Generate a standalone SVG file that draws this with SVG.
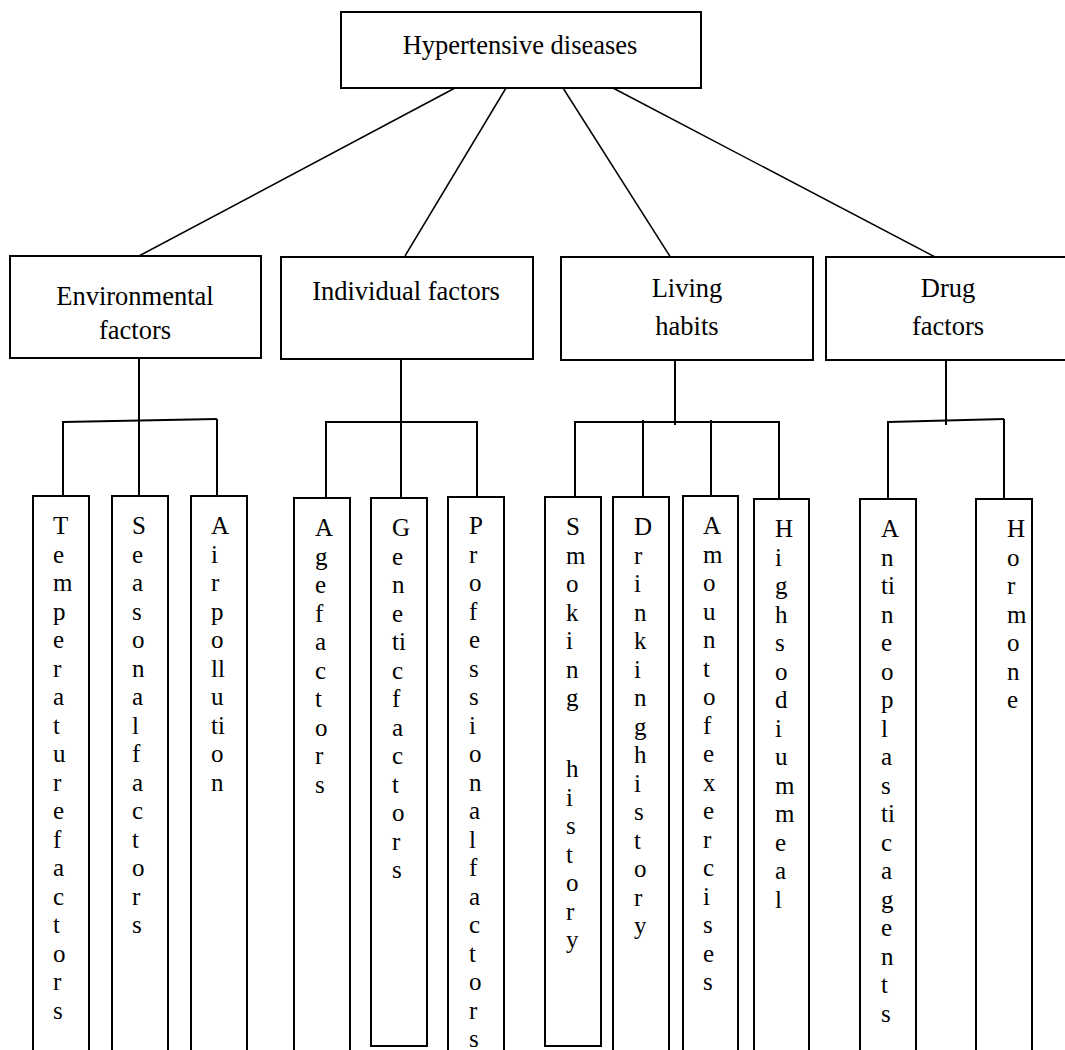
<svg xmlns="http://www.w3.org/2000/svg" width="1065" height="1050" viewBox="0 0 1065 1050">
<style>
.box{fill:#fff;stroke:#000;stroke-width:2}
.ln{stroke:#000;stroke-width:1.5;fill:none}
.cn{stroke:#000;stroke-width:2;fill:none}
.t{font-family:"Liberation Serif","Times New Roman",serif;font-size:26.5px;fill:#000}
.lt{font-family:"Liberation Serif","Times New Roman",serif;font-size:25px;fill:#000}
</style>
<rect width="1065" height="1050" fill="#fff"/>
<g id="connectors">
<line class="ln" x1="455" y1="88" x2="139" y2="256"/>
<line class="ln" x1="506" y1="88" x2="405" y2="256"/>
<line class="ln" x1="563" y1="88" x2="671" y2="258"/>
<line class="ln" x1="613" y1="88" x2="937" y2="258"/>
<line class="cn" x1="139" y1="358" x2="139" y2="496"/>
<line class="cn" x1="63" y1="422" x2="217" y2="419"/>
<line class="cn" x1="63" y1="421" x2="63" y2="496"/>
<line class="cn" x1="217" y1="419" x2="217" y2="496"/>
<line class="cn" x1="401" y1="359" x2="401" y2="498"/>
<line class="cn" x1="326" y1="422" x2="477" y2="422"/>
<line class="cn" x1="326" y1="421" x2="326" y2="498"/>
<line class="cn" x1="477" y1="421" x2="477" y2="497"/>
<line class="cn" x1="675" y1="360" x2="675" y2="425"/>
<line class="cn" x1="575" y1="422" x2="779" y2="422"/>
<line class="cn" x1="575" y1="421" x2="575" y2="497"/>
<line class="cn" x1="643" y1="420" x2="643" y2="497"/>
<line class="cn" x1="711" y1="420" x2="711" y2="496"/>
<line class="cn" x1="779" y1="421" x2="779" y2="499"/>
<line class="cn" x1="946" y1="360" x2="946" y2="425"/>
<line class="cn" x1="888" y1="422" x2="1004" y2="419"/>
<line class="cn" x1="888" y1="421" x2="888" y2="499"/>
<line class="cn" x1="1004" y1="419" x2="1004" y2="499"/>
</g>
<g id="root"><rect class="box" x="341" y="12" width="360" height="76"/><text class="t" x="520" y="54" text-anchor="middle">Hypertensive diseases</text></g>
<g id="environmental"><rect class="box" x="10" y="256" width="251" height="102"/><text class="t" x="135" y="305" text-anchor="middle">Environmental</text><text class="t" x="135" y="339" text-anchor="middle">factors</text></g>
<g id="individual"><rect class="box" x="281" y="257" width="252" height="102"/><text class="t" x="406" y="300" text-anchor="middle">Individual factors</text></g>
<g id="living"><rect class="box" x="561" y="257" width="252" height="103"/><text class="t" x="687" y="297" text-anchor="middle">Living</text><text class="t" x="687" y="335" text-anchor="middle">habits</text></g>
<g id="drug"><rect class="box" x="826" y="257" width="240" height="103"/><text class="t" x="948" y="297" text-anchor="middle">Drug</text><text class="t" x="948" y="335" text-anchor="middle">factors</text></g>

<g id="temperature"><rect class="box" x="33" y="496" width="56" height="570"/>
<text class="lt" y="534"><tspan x="53">T</tspan><tspan x="53" dy="28.5">e</tspan><tspan x="53" dy="28.5">m</tspan><tspan x="53" dy="28.5">p</tspan><tspan x="53" dy="28.5">e</tspan><tspan x="53" dy="28.5">r</tspan><tspan x="53" dy="28.5">a</tspan><tspan x="53" dy="28.5">t</tspan><tspan x="53" dy="28.5">u</tspan><tspan x="53" dy="28.5">r</tspan><tspan x="53" dy="28.5">e</tspan><tspan x="53" dy="28.5">f</tspan><tspan x="53" dy="28.5">a</tspan><tspan x="53" dy="28.5">c</tspan><tspan x="53" dy="28.5">t</tspan><tspan x="53" dy="28.5">o</tspan><tspan x="53" dy="28.5">r</tspan><tspan x="53" dy="28.5">s</tspan></text></g>

<g id="seasonal"><rect class="box" x="112" y="496" width="56" height="570"/>
<text class="lt" y="534"><tspan x="132">S</tspan><tspan x="132" dy="28.5">e</tspan><tspan x="132" dy="28.5">a</tspan><tspan x="132" dy="28.5">s</tspan><tspan x="132" dy="28.5">o</tspan><tspan x="132" dy="28.5">n</tspan><tspan x="132" dy="28.5">a</tspan><tspan x="132" dy="28.5">l</tspan><tspan x="132" dy="28.5">f</tspan><tspan x="132" dy="28.5">a</tspan><tspan x="132" dy="28.5">c</tspan><tspan x="132" dy="28.5">t</tspan><tspan x="132" dy="28.5">o</tspan><tspan x="132" dy="28.5">r</tspan><tspan x="132" dy="28.5">s</tspan></text></g>

<g id="air"><rect class="box" x="191" y="496" width="56" height="570"/>
<text class="lt" y="534"><tspan x="211">A</tspan><tspan x="211" dy="28.5">i</tspan><tspan x="211" dy="28.5">r</tspan><tspan x="211" dy="28.5">p</tspan><tspan x="211" dy="28.5">o</tspan><tspan x="211" dy="28.5">ll</tspan><tspan x="211" dy="28.5">u</tspan><tspan x="211" dy="28.5">ti</tspan><tspan x="211" dy="28.5">o</tspan><tspan x="211" dy="28.5">n</tspan></text></g>

<g id="age"><rect class="box" x="294" y="498" width="56" height="570"/>
<text class="lt" y="536"><tspan x="315">A</tspan><tspan x="315" dy="28.5">g</tspan><tspan x="315" dy="28.5">e</tspan><tspan x="315" dy="28.5">f</tspan><tspan x="315" dy="28.5">a</tspan><tspan x="315" dy="28.5">c</tspan><tspan x="315" dy="28.5">t</tspan><tspan x="315" dy="28.5">o</tspan><tspan x="315" dy="28.5">r</tspan><tspan x="315" dy="28.5">s</tspan></text></g>

<g id="genetic"><rect class="box" x="371" y="498" width="56" height="548"/>
<text class="lt" y="536"><tspan x="392">G</tspan><tspan x="392" dy="28.5">e</tspan><tspan x="392" dy="28.5">n</tspan><tspan x="392" dy="28.5">e</tspan><tspan x="392" dy="28.5">ti</tspan><tspan x="392" dy="28.5">c</tspan><tspan x="392" dy="28.5">f</tspan><tspan x="392" dy="28.5">a</tspan><tspan x="392" dy="28.5">c</tspan><tspan x="392" dy="28.5">t</tspan><tspan x="392" dy="28.5">o</tspan><tspan x="392" dy="28.5">r</tspan><tspan x="392" dy="28.5">s</tspan></text></g>

<g id="professional"><rect class="box" x="448" y="497" width="56" height="570"/>
<text class="lt" y="534"><tspan x="469">P</tspan><tspan x="469" dy="28.5">r</tspan><tspan x="469" dy="28.5">o</tspan><tspan x="469" dy="28.5">f</tspan><tspan x="469" dy="28.5">e</tspan><tspan x="469" dy="28.5">s</tspan><tspan x="469" dy="28.5">s</tspan><tspan x="469" dy="28.5">i</tspan><tspan x="469" dy="28.5">o</tspan><tspan x="469" dy="28.5">n</tspan><tspan x="469" dy="28.5">a</tspan><tspan x="469" dy="28.5">l</tspan><tspan x="469" dy="28.5">f</tspan><tspan x="469" dy="28.5">a</tspan><tspan x="469" dy="28.5">c</tspan><tspan x="469" dy="28.5">t</tspan><tspan x="469" dy="28.5">o</tspan><tspan x="469" dy="28.5">r</tspan><tspan x="469" dy="28.5">s</tspan></text></g>

<g id="smoking"><rect class="box" x="545" y="497" width="56" height="549"/>
<text class="lt" y="535"><tspan x="566">S</tspan><tspan x="566" dy="28.5">m</tspan><tspan x="566" dy="28.5">o</tspan><tspan x="566" dy="28.5">k</tspan><tspan x="566" dy="28.5">i</tspan><tspan x="566" dy="28.5">n</tspan><tspan x="566" dy="28.5">g</tspan><tspan x="566" dy="71">h</tspan><tspan x="566" dy="28.5">i</tspan><tspan x="566" dy="28.5">s</tspan><tspan x="566" dy="28.5">t</tspan><tspan x="566" dy="28.5">o</tspan><tspan x="566" dy="28.5">r</tspan><tspan x="566" dy="28.5">y</tspan></text></g>

<g id="drinking"><rect class="box" x="613" y="497" width="56" height="570"/>
<text class="lt" y="535"><tspan x="634">D</tspan><tspan x="634" dy="28.5">r</tspan><tspan x="634" dy="28.5">i</tspan><tspan x="634" dy="28.5">n</tspan><tspan x="634" dy="28.5">k</tspan><tspan x="634" dy="28.5">i</tspan><tspan x="634" dy="28.5">n</tspan><tspan x="634" dy="28.5">g</tspan><tspan x="634" dy="28.5">h</tspan><tspan x="634" dy="28.5">i</tspan><tspan x="634" dy="28.5">s</tspan><tspan x="634" dy="28.5">t</tspan><tspan x="634" dy="28.5">o</tspan><tspan x="634" dy="28.5">r</tspan><tspan x="634" dy="28.5">y</tspan></text></g>

<g id="amount"><rect class="box" x="683" y="496" width="55" height="570"/>
<text class="lt" y="534"><tspan x="703">A</tspan><tspan x="703" dy="28.5">m</tspan><tspan x="703" dy="28.5">o</tspan><tspan x="703" dy="28.5">u</tspan><tspan x="703" dy="28.5">n</tspan><tspan x="703" dy="28.5">t</tspan><tspan x="703" dy="28.5">o</tspan><tspan x="703" dy="28.5">f</tspan><tspan x="703" dy="28.5">e</tspan><tspan x="703" dy="28.5">x</tspan><tspan x="703" dy="28.5">e</tspan><tspan x="703" dy="28.5">r</tspan><tspan x="703" dy="28.5">c</tspan><tspan x="703" dy="28.5">i</tspan><tspan x="703" dy="28.5">s</tspan><tspan x="703" dy="28.5">e</tspan><tspan x="703" dy="28.5">s</tspan></text></g>

<g id="sodium"><rect class="box" x="754" y="499" width="55" height="570"/>
<text class="lt" y="537"><tspan x="775">H</tspan><tspan x="775" dy="28.5">i</tspan><tspan x="775" dy="28.5">g</tspan><tspan x="775" dy="28.5">h</tspan><tspan x="775" dy="28.5">s</tspan><tspan x="775" dy="28.5">o</tspan><tspan x="775" dy="28.5">d</tspan><tspan x="775" dy="28.5">i</tspan><tspan x="775" dy="28.5">u</tspan><tspan x="775" dy="28.5">m</tspan><tspan x="775" dy="28.5">m</tspan><tspan x="775" dy="28.5">e</tspan><tspan x="775" dy="28.5">a</tspan><tspan x="775" dy="28.5">l</tspan></text></g>

<g id="antineoplastic"><rect class="box" x="860" y="499" width="56" height="570"/>
<text class="lt" y="537"><tspan x="881">A</tspan><tspan x="881" dy="28.5">n</tspan><tspan x="881" dy="28.5">ti</tspan><tspan x="881" dy="28.5">n</tspan><tspan x="881" dy="28.5">e</tspan><tspan x="881" dy="28.5">o</tspan><tspan x="881" dy="28.5">p</tspan><tspan x="881" dy="28.5">l</tspan><tspan x="881" dy="28.5">a</tspan><tspan x="881" dy="28.5">s</tspan><tspan x="881" dy="28.5">ti</tspan><tspan x="881" dy="28.5">c</tspan><tspan x="881" dy="28.5">a</tspan><tspan x="881" dy="28.5">g</tspan><tspan x="881" dy="28.5">e</tspan><tspan x="881" dy="28.5">n</tspan><tspan x="881" dy="28.5">t</tspan><tspan x="881" dy="28.5">s</tspan></text></g>

<g id="hormone"><rect class="box" x="976" y="499" width="56" height="570"/>
<text class="lt" y="537"><tspan x="1007">H</tspan><tspan x="1007" dy="28.5">o</tspan><tspan x="1007" dy="28.5">r</tspan><tspan x="1007" dy="28.5">m</tspan><tspan x="1007" dy="28.5">o</tspan><tspan x="1007" dy="28.5">n</tspan><tspan x="1007" dy="28.5">e</tspan></text></g>
</svg>
